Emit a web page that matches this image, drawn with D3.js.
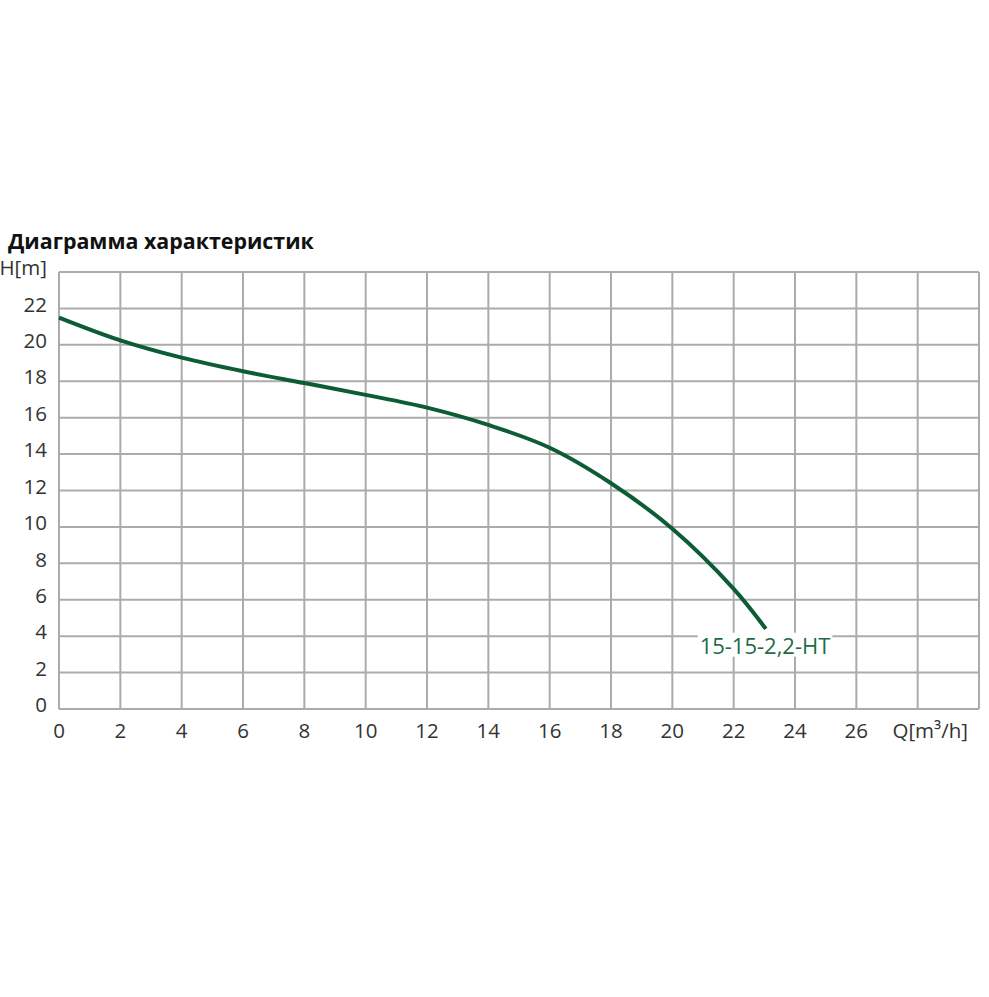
<!DOCTYPE html>
<html><head><meta charset="utf-8">
<script src="https://cdn.jsdelivr.net/npm/d3@7"></script>
<style>body{margin:0;background:#fff}svg{display:block}</style>
</head><body>
<svg id="c" width="989" height="997"></svg>
<script>
const title = "Диаграмма характеристик";
const seriesName = "15-15-2,2-HT";
const xTicks = [0,2,4,6,8,10,12,14,16,18,20,22,24,26];
const yTicks = [0,2,4,6,8,10,12,14,16,18,20,22];
const xGrid = [0,2,4,6,8,10,12,14,16,18,20,22,24,26,28,30];
const yGrid = [0,2,4,6,8,10,12,14,16,18,20,22,24];
const flowQ = [0,2,4,6,8,10,12,14,16,18,20,22,23.05];
const headH = [21.5,20.25,19.3,18.55,17.9,17.25,16.55,15.6,14.35,12.4,9.9,6.6,4.4];
const xLabel = "Q[m³/h]";
const yLabel = "H[m]";

const svg = d3.select("#c");
const x = d3.scaleLinear().domain([0,30]).range([59,979]);
const y = d3.scaleLinear().domain([0,24]).range([709,272]);
const grid = "#ababab";

svg.append("g").selectAll("line").data(xGrid).join("line")
  .attr("x1",d=>x(d)).attr("x2",d=>x(d)).attr("y1",y(0)).attr("y2",y(24))
  .attr("stroke",grid).attr("stroke-width",2);
svg.append("g").selectAll("line").data(yGrid).join("line")
  .attr("x1",x(0)).attr("x2",x(30)).attr("y1",d=>y(d)).attr("y2",d=>y(d))
  .attr("stroke",grid).attr("stroke-width",2);

const font = "'Open Sans', sans-serif";
const fs = 20.5;
svg.append("g").selectAll("text").data(yTicks).join("text")
  .attr("x",47).attr("y",d=>y(d)-4).attr("dy","0.35em")
  .attr("text-anchor","end").attr("font-family",font).attr("font-size",fs)
  .attr("fill","#333").text(d=>d);
svg.append("g").selectAll("text").data(xTicks).join("text")
  .attr("x",d=>x(d)).attr("y",731).attr("dy","0.35em")
  .attr("text-anchor","middle").attr("font-family",font).attr("font-size",fs)
  .attr("fill","#333").text(d=>d);

svg.append("text").attr("x",968).attr("y",731).attr("dy","0.35em")
  .attr("text-anchor","end").attr("font-family",font).attr("font-size",fs)
  .attr("fill","#333").text(xLabel);
svg.append("text").attr("x",47).attr("y",268).attr("dy","0.35em")
  .attr("text-anchor","end").attr("font-family",font).attr("font-size",fs)
  .attr("fill","#333").text(yLabel);

svg.append("text").attr("x",8).attr("y",249)
  .attr("font-family","'Open Sans', sans-serif").attr("font-weight","bold")
  .attr("font-size",21.4).attr("fill","#111").text(title);

const line = d3.line().x((d,i)=>x(flowQ[i])).y(d=>y(d)).curve(d3.curveCatmullRom.alpha(0.5));
svg.append("path").datum(headH).attr("d",line)
  .attr("fill","none").attr("stroke","#0c5c34").attr("stroke-width",4)
  .attr("stroke-linecap","butt");

const lg = svg.append("g");
const lbl = lg.append("text").attr("x",765).attr("y",646).attr("dy","0.35em")
  .attr("text-anchor","middle").attr("font-family",font).attr("font-size",22)
  .attr("fill","#1e6b45").text(seriesName);
const bb = lbl.node().getBBox();
lg.insert("rect","text").attr("x",bb.x-2).attr("y",bb.y+3)
  .attr("width",bb.width+4).attr("height",bb.height-6).attr("fill","#fff");
</script>
</body></html>
